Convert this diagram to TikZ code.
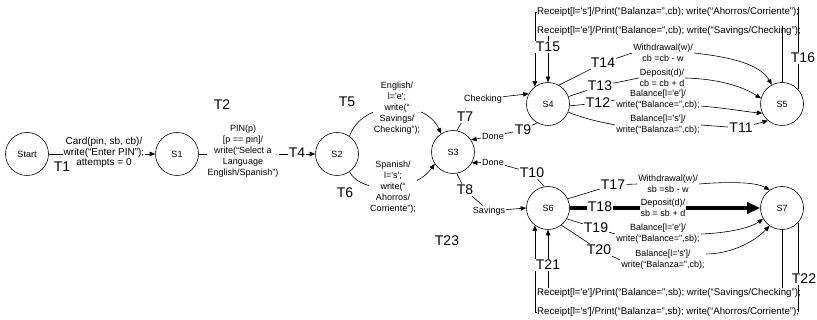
\documentclass[tikz,border=0pt]{standalone}
\usepackage{fontspec}
\newfontfamily\diagfont{Liberation Sans}
\usetikzlibrary{arrows.meta}
\pgfdeclarelayer{background}
\pgfsetlayers{background,main}
\begin{document}
\begin{tikzpicture}[x=1pt,y=-1pt,
  state/.style={draw, circle, minimum size=43pt, inner sep=0pt, line width=0.6pt,
    font=\diagfont\fontsize{9}{10}\selectfont},
  lbl/.style={fill=white, inner sep=1pt, align=center,
    font=\diagfont\fontsize{9}{11}\selectfont},
  biglbl/.style={lbl, font=\diagfont\fontsize{10}{10.5}\selectfont},
  tname/.style={fill=white, inner sep=1pt, font=\diagfont\fontsize{14}{16}\selectfont},
  rcpt/.style={inner sep=0pt, anchor=west, font=\diagfont\fontsize{9.7}{11}\selectfont},
  wire/.style={line width=0.6pt},
  arr/.style={wire, -{Triangle[length=5.5pt,width=4.5pt]}},
  heavy/.style={line width=3.5pt, -{Triangle[length=13pt,width=11pt]}},
]
\useasboundingbox (0,0) rectangle (817,320);

% states
\node[state] (Start) at (27,154) {Start};
\node[state] (S1) at (177,154) {S1};
\node[state] (S2) at (337,154) {S2};
\node[state] (S3) at (453,152) {S3};
\node[state] (S4) at (548,104) {S4};
\node[state] (S5) at (782,104) {S5};
\node[state] (S6) at (548,208) {S6};
\node[state] (S7) at (782,208) {S7};

% left part: card, PIN and language choice
\node[biglbl] (L1) at (104,152.5) {Card(pin, sb, cb)/\\write(“Enter PIN”);\\attempts = 0};
\node[tname] (T1) at (62,167) {T1};
\node[lbl] (L2) at (243,151) {PIN(p)\\{[p == pin]/}\\write(“Select a\\Language\\English/Spanish”)};
\node[tname] (T2) at (222,105) {T2};
\node[tname] (T4) at (297,153) {T4};
\node[lbl] (L5) at (397,108) {English/\\l='e';\\write(“\\Savings/\\Checking”);};
\node[lbl] (L6) at (393,187) {Spanish/\\l='s';\\write(“\\Ahorros/\\Corriente”);};
\node[tname] (T5) at (347,102) {T5};
\node[tname] (T6) at (345,193) {T6};

% account selection around S3
\node[tname] (T7) at (465,117) {T7};
\node[tname] (T8) at (465,190) {T8};
\node[lbl] (Checking) at (483,99) {Checking};
\node[lbl] (Done1) at (493,136) {Done};
\node[lbl] (Done2) at (493,162) {Done};
\node[lbl] (Savings) at (489,211) {Savings};
\node[tname] (T9) at (523,130) {T9};
\node[tname] (T10) at (532,173) {T10};
\node[tname] (T23) at (447,241) {T23};

% checking account transitions
\node[lbl] (L14) at (663,53) {Withdrawal(w)/\\cb =cb - w};
\node[tname] (T14) at (603,63) {T14};
\node[lbl] (L13) at (662,78) {Deposit(d)/\\cb = cb + d};
\node[tname] (T13) at (600,86) {T13};
\node[lbl] (L12) at (658,100) {Balance[l='e']/\\write(“Balance=”,cb);};
\node[tname] (T12) at (598,103) {T12};
\node[lbl] (L11) at (658,125) {Balance[l='s']/\\write(“Balanza=”,cb);};
\node[tname] (T11) at (741,128) {T11};
\node[tname] (T15) at (548,47) {T15};
\node[tname] (T16) at (803,58) {T16};
\node[rcpt] (RS4) at (537,12) {Receipt[l='s']/Print(“Balanza=”,cb); write(“Ahorros/Corriente”);};
\node[rcpt] (RE4) at (537,31) {Receipt[l='e']/Print(“Balance=”,cb); write(“Savings/Checking”);};

% savings account transitions
\node[lbl] (L17) at (668,184) {Withdrawal(w)/\\sb =sb - w};
\node[tname] (T17) at (613,185) {T17};
\node[lbl] (L18) at (663,208) {Deposit(d)/\\sb = sb + d};
\node[tname] (T18) at (600,207) {T18};
\node[lbl] (L19) at (658,234) {Balance[l='e']/\\write(“Balance=”,sb);};
\node[tname] (T19) at (596,228) {T19};
\node[lbl] (L20) at (663,260) {Balance[l='s']/\\write(“Balanza=”,cb);};
\node[tname] (T20) at (599,250) {T20};
\node[tname] (T21) at (548,265) {T21};
\node[tname] (T22) at (804,279) {T22};
\node[rcpt] (RE6) at (537,293) {Receipt[l='e']/Print(“Balance=”,sb); write(“Savings/Checking”);};
\node[rcpt] (RS6) at (537,312) {Receipt[l='s']/Print(“Balanza=”,sb); write(“Ahorros/Corriente”);};

\begin{pgfonlayer}{background}
  % main flow
  \draw[arr] (Start) -- (S1);
  \draw[arr] (S1) -- (S2);
  \draw[arr] (S2.55) .. controls (362,100) and (425,98) .. (S3.123);
  \draw[arr] (S2.-55) .. controls (362,195) and (415,192) .. (S3.-147);
  \draw[arr] (S3.80) -- (T7) (Checking) -- (S4.152);
  \draw[arr] (S4.240) -- (T9) -- (Done1) -- (S3.34);
  \draw[arr] (S6.100) -- (T10) -- (Done2) -- (S3.-30);
  \draw[arr] (S3.-80) -- (T8) -- (Savings) -- (S6.180);

  % S4 -> S5
  \draw[arr] (S4.60) -- (T14) -- (L14.west) -- (L14.east) .. controls (730,57) and (760,64) .. (S5.118);
  \draw[arr] (S4.20) -- (T13) -- (L13.west) -- (L13.east) .. controls (722,79) and (745,88) .. (S5.165);
  \draw[arr] (S4.-5) -- (T12) -- (L12.west) -- (L12.-8) .. controls (725,108) and (748,112) .. (S5.205);
  \draw[arr] (S4.-22) .. controls (590,121) and (612,124) .. (L11.west) -- (L11.east) -- (T11) -- (S5.230);

  % S6 -> S7
  \draw[arr] (S6.25) -- (T17) -- (L17.west) -- (L17.east) .. controls (735,181) and (758,183) .. (S7.125);
  \draw[heavy] (S6) -- (S7);
  \draw[arr] (S6.-30) -- (T19) -- (L19.west) -- (L19.east) .. controls (728,233) and (750,228) .. (S7.210);
  \draw[arr] (S6.-52) -- (T20) -- (L20.west) -- (L20.8) .. controls (728,254) and (752,244) .. (S7.235);

  % receipt loops S5 -> S4
  \draw[wire] (S5.42) -- (S5.42 |- RS4.north);
  \draw[arr] (RS4.west) -| (S4.127);
  \draw[wire] (S5.north) -- (S5.north |- RE4.north);
  \draw[arr] (S4.north |- RE4.south) -- (T15) -- (S4.north);

  % receipt loops S7 -> S6
  \draw[wire] (S7.south) -- (S7.south |- RE6.north);
  \draw[wire] (S7.-42) -- (S7.-42 |- RS6.center);
  \draw[arr] (RS6.west) -| (S6.233);
  \draw[arr] (S6.south |- RE6.north) -- (T21) -- (S6.south);
\end{pgfonlayer}
\end{tikzpicture}
\end{document}
